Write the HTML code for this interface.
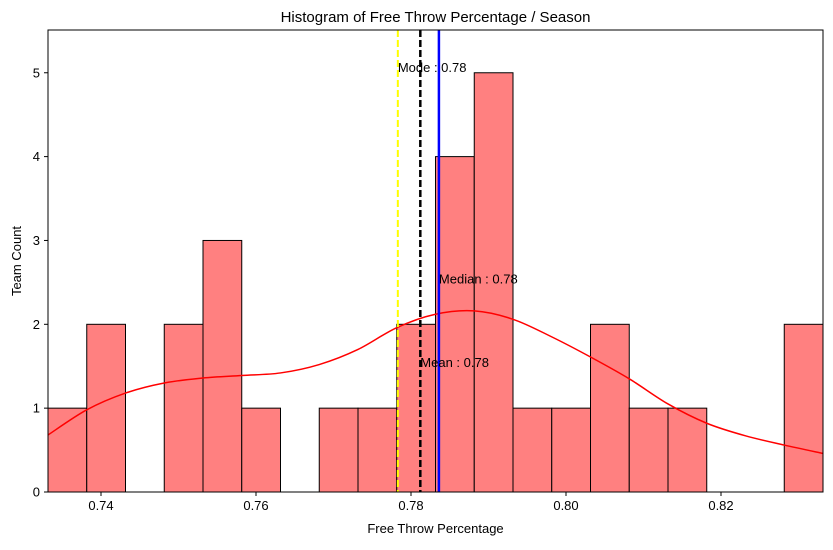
<!DOCTYPE html>
<html><head><meta charset="utf-8"><style>
body{margin:0;background:#fff;width:833px;height:545px;overflow:hidden}
svg text{font-family:"Liberation Sans","DejaVu Sans",sans-serif;fill:#000}
</style></head><body>
<svg id="chart" width="833" height="545" xmlns="http://www.w3.org/2000/svg"></svg>
<script>
const binStart = 0.73316;
const binWidth = 0.005;
const counts = [1,2,0,2,3,1,0,1,1,2,4,5,1,1,2,1,1,0,0,2];
const kdeX = [0.73316,0.73816,0.74316,0.74816,0.75316,0.75816,0.76316,0.76816,0.77316,0.77816,0.78316,0.78816,0.79316,0.79816,0.80316,0.80816,0.81316,0.81816,0.82316,0.82816,0.83316];
const kdeY = [0.68,0.98,1.18,1.30,1.36,1.39,1.42,1.52,1.70,1.96,2.12,2.16,2.06,1.85,1.61,1.35,1.05,0.82,0.67,0.56,0.46];
const xTicks = [0.74,0.76,0.78,0.80,0.82];
const yTicks = [0,1,2,3,4,5];
const modeVal = 0.7783, meanVal = 0.7812, medianVal = 0.7836;

const L=48,R=823,T=30,B=492;
const xMin=0.73316,xMax=0.83316,yMax=5.51;
const sx=v=>L+(v-xMin)/(xMax-xMin)*(R-L);
const sy=v=>B-v/yMax*(B-T);
const svg=document.getElementById('chart');
const NS='http://www.w3.org/2000/svg';
function mk(tag,attrs,parent){const e=document.createElementNS(NS,tag);for(const k in attrs)e.setAttribute(k,attrs[k]);(parent||svg).appendChild(e);return e;}

counts.forEach((c,i)=>{
  if(c<=0)return;
  const x0=sx(binStart+i*binWidth),x1=sx(binStart+(i+1)*binWidth);
  const r=mk('rect',{x:x0,y:sy(c),width:x1-x0,height:sy(0)-sy(c),fill:'#ff8080',stroke:'#000','stroke-width':1});
  
  
});
const pts=kdeX.map((x,i)=>[sx(x),sy(kdeY[i])]);
let d='M'+pts[0][0]+','+pts[0][1];
for(let i=0;i<pts.length-1;i++){
  const p0=pts[Math.max(0,i-1)],p1=pts[i],p2=pts[i+1],p3=pts[Math.min(pts.length-1,i+2)];
  const c1=[p1[0]+(p2[0]-p0[0])/6,p1[1]+(p2[1]-p0[1])/6];
  const c2=[p2[0]-(p3[0]-p1[0])/6,p2[1]-(p3[1]-p1[1])/6];
  d+='C'+c1.join(',')+' '+c2.join(',')+' '+p2.join(',');
}
const kp=mk('path',{d:d,fill:'none',stroke:'#ff0000','stroke-width':1.5});



const ml=mk('line',{x1:sx(modeVal),x2:sx(modeVal),y1:T,y2:B,stroke:'#ffff00','stroke-width':2,'stroke-dasharray':'7,3'});


const mel=mk('line',{x1:sx(meanVal),x2:sx(meanVal),y1:T,y2:B,stroke:'#000','stroke-width':2.5,'stroke-dasharray':'7,3'});


const mdl=mk('line',{x1:sx(medianVal),x2:sx(medianVal),y1:T,y2:B,stroke:'#0000ff','stroke-width':2.5});



function txt(x,y,s,attrs,name){const t=mk('text',Object.assign({x:x,y:y,'font-size':13},attrs||{}));t.textContent=s;return t;}
txt(sx(modeVal),sy(5)-1,'Mode : 0.78',{},'mode-label');
txt(sx(medianVal),sy(2.5)+1,'Median : 0.78',{},'median-label');
txt(sx(meanVal),sy(1.5)+1,'Mean : 0.78',{},'mean-label');

const fr=mk('rect',{x:L,y:T,width:R-L,height:B-T,fill:'none',stroke:'#000','stroke-width':1});



xTicks.forEach(v=>{
  mk('line',{x1:sx(v),x2:sx(v),y1:B,y2:B+4,stroke:'#000'});
  txt(sx(v),B+18,v.toFixed(2),{'text-anchor':'middle'},'x-tick-label');
});
yTicks.forEach(v=>{
  mk('line',{x1:L-4,x2:L,y1:sy(v),y2:sy(v),stroke:'#000'});
  txt(L-8,sy(v)+4.5,String(v),{'text-anchor':'end'},'y-tick-label');
});
txt((L+R)/2,533,'Free Throw Percentage',{'text-anchor':'middle'},'x-axis-title');
txt(21,(T+B)/2,'Team Count',{'text-anchor':'middle',transform:'rotate(-90 21 '+((T+B)/2)+')'},'y-axis-title');
txt((L+R)/2,22,'Histogram of Free Throw Percentage / Season',{'text-anchor':'middle','font-size':15},'chart-title');
</script>
</body></html>
